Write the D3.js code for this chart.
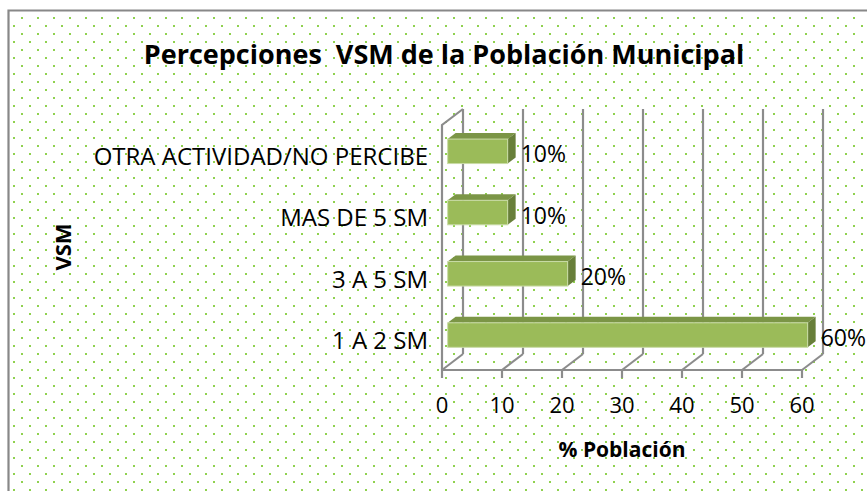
<!DOCTYPE html>
<html lang="es">
<head>
<meta charset="UTF-8">
<title>Percepciones VSM</title>
<script src="https://d3js.org/d3.v7.min.js"></script>
<style>
    body { margin: 0; background: #fff; }
    svg { display: block; }
    .lbl { font-family: "Open Sans", sans-serif; font-size: 22px; fill: #000; }
    .cat { font-size: 24px; }
    .ttl { font-family: "Open Sans", sans-serif; font-weight: bold; fill: #000; white-space: pre; }
    .grid { stroke: #8c8c8c; stroke-width: 2.2; fill: none; }
</style>
</head>
<body>
<svg id="chart" width="867" height="491"></svg>
<script>
// data
const categories = ["OTRA ACTIVIDAD/NO PERCIBE", "MAS DE 5 SM", "3 A 5 SM", "1 A 2 SM"];
const values = [10, 10, 20, 60];
const xTicks = [0, 10, 20, 30, 40, 50, 60];
const title = "Percepciones  VSM de la Población Municipal";
const xTitle = "% Población";
const yTitle = "VSM";

const W = 867, H = 491;
const svg = d3.select("#chart");

// dotted background pattern
const defs = svg.append("defs");
const pat = defs.append("pattern")
    .attr("id", "dots")
    .attr("patternUnits", "userSpaceOnUse")
    .attr("width", 16).attr("height", 16);
pat.append("rect").attr("x", 5).attr("y", 1).attr("width", 2).attr("height", 2).attr("fill", "#8fd14f");
pat.append("rect").attr("x", 13).attr("y", 9).attr("width", 2).attr("height", 2).attr("fill", "#8fd14f");

svg.append("rect").attr("x", 9).attr("y", 11).attr("width", W).attr("height", H)
    .attr("fill", "url(#dots)");
svg.append("path").attr("d", `M8.5,${H} V10.5 H${W}`)
    .attr("fill", "none").attr("stroke", "#888").attr("stroke-width", 2.2);

// scales (front plane)
const x = d3.scaleLinear().domain([0, 60]).range([442, 802]);
const y = d3.scaleBand().domain(categories).range([125, 370]).paddingInner(0.6).paddingOuter(0.3);
const yFront = d3.scaleBand().domain(categories).range([125, 370]);

// depth projection
const DX = 21, DY = -16;
const d0 = 0.27, d1 = 0.65;

const grid = svg.append("g");
xTicks.forEach(t => {
    // back wall
    grid.append("line").attr("class", "grid")
        .attr("x1", x(t) + DX).attr("x2", x(t) + DX)
        .attr("y1", 125 + DY).attr("y2", 370 + DY);
    // floor diagonals
    grid.append("line").attr("class", "grid")
        .attr("x1", x(t)).attr("y1", 370)
        .attr("x2", x(t) + DX).attr("y2", 370 + DY);
    // tick marks
    grid.append("line").attr("class", "grid")
        .attr("x1", x(t)).attr("x2", x(t))
        .attr("y1", 370).attr("y2", 378);
});
grid.append("line").attr("class", "grid")
    .attr("x1", x(0)).attr("x2", x(60)).attr("y1", 370).attr("y2", 370);
grid.append("path").attr("class", "grid")
    .attr("d", `M${x(0)},370 V125 L${x(0) + DX},${125 + DY}`);

// 3D bars
const bars = svg.append("g");
categories.forEach((c, i) => {
    const v = values[i];
    const x0 = x(0) + DX * d0, x1 = x(v) + DX * d0;
    const yt = y(c) + DY * d0, yb = yt + y.bandwidth();
    const ddx = DX * (d1 - d0), ddy = DY * (d1 - d0);
    bars.append("path")
        .attr("d", `M${x0},${yt} L${x0 + ddx},${yt + ddy} L${x1 + ddx},${yt + ddy} L${x1},${yt} Z`)
        .attr("fill", "#7b9546");
    bars.append("path")
        .attr("d", `M${x1},${yt} L${x1 + ddx},${yt + ddy} L${x1 + ddx},${yb + ddy} L${x1},${yb} Z`)
        .attr("fill", "#687f3a");
    bars.append("rect")
        .attr("x", x0).attr("y", yt)
        .attr("width", x1 - x0).attr("height", yb - yt)
        .attr("fill", "#9bbb59")
        .attr("stroke", "#c9dca6").attr("stroke-width", 1);
    svg.append("text").attr("class", "lbl")
        .attr("x", x(v) + DX * d1 + 5)
        .attr("y", y(c) + y.bandwidth() / 2 + DY * d0 + 2)
        .attr("dominant-baseline", "central")
        .style("font-size", "23px")
        .text(v + "%");
});

// category labels
categories.forEach(c => {
    svg.append("text").attr("class", "lbl cat")
        .attr("x", 428)
        .attr("y", yFront(c) + yFront.bandwidth() / 2)
        .attr("text-anchor", "end")
        .attr("dominant-baseline", "central")
        .text(c);
});

// tick labels
xTicks.forEach(t => {
    svg.append("text").attr("class", "lbl")
        .attr("x", x(t)).attr("y", 413)
        .attr("text-anchor", "middle")
        .text(t);
});

// titles
svg.append("text").attr("class", "ttl")
    .attr("x", 444).attr("y", 64)
    .attr("text-anchor", "middle")
    .style("font-size", "27px")
    .text(title);
svg.append("text").attr("class", "ttl")
    .attr("x", 622).attr("y", 457)
    .attr("text-anchor", "middle")
    .style("font-size", "21px")
    .text(xTitle);
svg.append("text").attr("class", "ttl")
    .attr("transform", "translate(71,247) rotate(-90)")
    .attr("text-anchor", "middle")
    .style("font-size", "22px")
    .text(yTitle);
</script>
</body>
</html>
